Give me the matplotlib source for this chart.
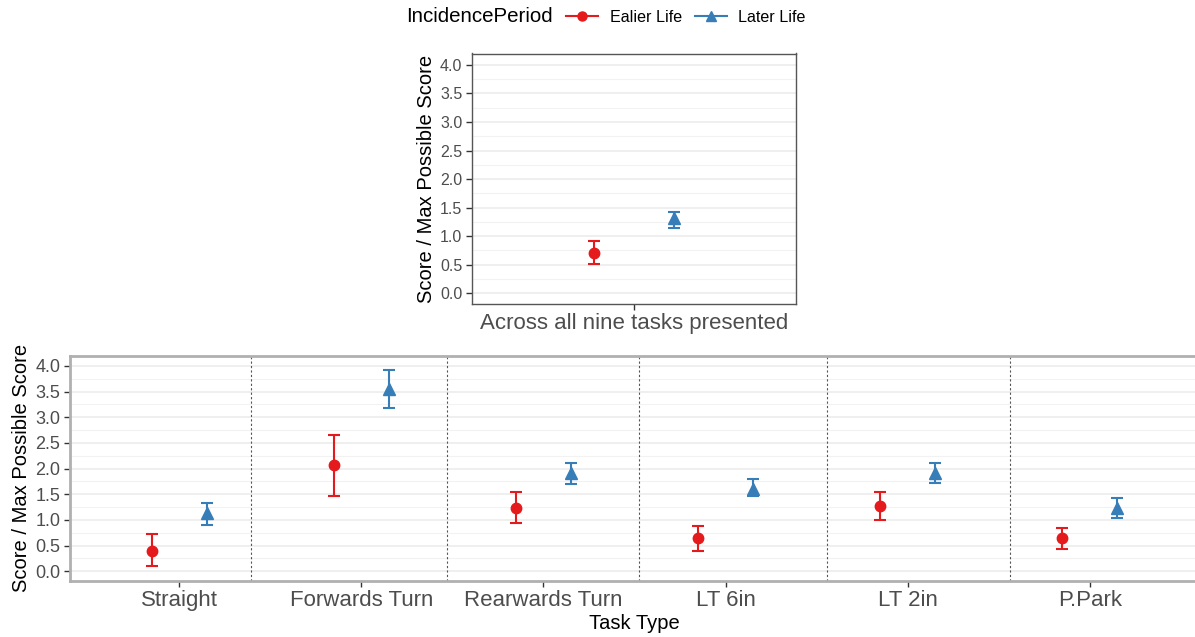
import matplotlib
matplotlib.use("Agg")
import matplotlib.pyplot as plt
from matplotlib.lines import Line2D
import numpy as np

plt.rcParams['font.family'] = ['Liberation Sans', 'DejaVu Sans']

# ---- data ----
series = ["Ealier Life", "Later Life"]
colors = ["#E41A1C", "#377EB8"]
markers = ["o", "^"]

overall_label = ["Across all nine tasks presented"]
overall_mean = [0.71, 1.31]
overall_lo = [0.52, 1.15]
overall_hi = [0.91, 1.42]

tasks = ["Straight", "Forwards Turn", "Rearwards Turn", "LT 6in", "LT 2in", "P.Park"]
early_mean = [0.40, 2.07, 1.24, 0.64, 1.27, 0.64]
early_lo = [0.10, 1.47, 0.94, 0.39, 0.99, 0.43]
early_hi = [0.72, 2.66, 1.54, 0.89, 1.55, 0.85]
later_mean = [1.13, 3.55, 1.92, 1.61, 1.92, 1.24]
later_lo = [0.90, 3.18, 1.70, 1.46, 1.72, 1.04]
later_hi = [1.33, 3.92, 2.11, 1.80, 2.10, 1.43]
separators = [1.392, 2.473, 3.526, 4.555, 5.564]

yticks = [0.0, 0.5, 1.0, 1.5, 2.0, 2.5, 3.0, 3.5, 4.0]

W, H = 1195, 637
fig = plt.figure(figsize=(W / 100, H / 100), dpi=100)

def px_axes(l, t, r, b):
    return fig.add_axes([l / W, 1 - b / H, (r - l) / W, (b - t) / H])

tick_col = "#4D4D4D"
dodge = 0.15

def style(ax, tick_fs, xtick_fs, border_col, border_lw):
    ax.set_ylim(-0.18, 4.2)
    ax.set_yticks(yticks)
    ax.set_yticklabels([f"{v:.1f}" for v in yticks])
    ax.set_yticks(np.arange(0.25, 4.0, 0.5), minor=True)
    ax.grid(axis='y', which='major', color='#EBEBEB', lw=1.1, zorder=0)
    ax.grid(axis='y', which='minor', color='#F2F2F2', lw=0.8, zorder=0)
    ax.tick_params(axis='y', which='minor', length=0)
    ax.tick_params(axis='both', which='major', length=4, width=1, color='#333333',
                   labelcolor=tick_col, pad=3)
    ax.tick_params(axis='y', labelsize=tick_fs)
    ax.tick_params(axis='x', labelsize=xtick_fs)
    ax.set_axisbelow(True)
    for s in ax.spines.values():
        s.set_color(border_col)
        s.set_linewidth(border_lw)

def draw(ax, x, mean, lo, hi, k):
    mean = np.asarray(mean); lo = np.asarray(lo); hi = np.asarray(hi)
    ax.errorbar(x, mean, yerr=[mean - lo, hi - mean], fmt=markers[k], color=colors[k],
                ms=7.5 if k == 0 else 8, elinewidth=1.5, capsize=4.5, capthick=1.5, zorder=3)

# ---- top panel ----
ax1 = px_axes(472, 53.5, 796, 303.5)
xpos = np.arange(1, len(overall_label) + 1)
draw(ax1, xpos - dodge, [overall_mean[0]], [overall_lo[0]], [overall_hi[0]], 0)
draw(ax1, xpos + dodge, [overall_mean[1]], [overall_lo[1]], [overall_hi[1]], 1)
ax1.set_xlim(0.4, 1.6)
ax1.set_xticks(xpos)
ax1.set_xticklabels(overall_label)
style(ax1, 11.5, 16, '#555555', 1.0)
ax1.set_ylabel("Score / Max Possible Score", fontsize=14.5, color='black', labelpad=3)

# ---- bottom panel ----
ax2 = px_axes(70, 355.7, 1199, 580.5)
xt = np.arange(1, len(tasks) + 1)
draw(ax2, xt - dodge, early_mean, early_lo, early_hi, 0)
draw(ax2, xt + dodge, later_mean, later_lo, later_hi, 1)
for s in separators:
    ax2.axvline(s, color='#555555', lw=0.8, ls=(0, (2, 2)), zorder=1)
ax2.set_xlim(0.4, 6.6)
ax2.set_xticks(xt)
ax2.set_xticklabels(tasks)
style(ax2, 13, 16, '#B0B0B0', 2.0)
ax2.set_ylabel("Score / Max Possible Score", fontsize=14.5, color='black', labelpad=3)
ax2.set_xlabel("Task Type", fontsize=14.5, color='black', labelpad=2)

# ---- legend ----
fig.text(406 / W, 1 - 17 / H, "IncidencePeriod", fontsize=14.8, ha='left', va='center')
handles = [Line2D([0], [0], color=colors[k], marker=markers[k], lw=1.5, ms=6.5) for k in range(2)]
fig.legend(handles, series, ncol=2, loc='center left', bbox_to_anchor=(566 / W, 1 - 17 / H),
           frameon=False, fontsize=11.6, handlelength=2.0, handletextpad=0.7, columnspacing=0.8,
           borderaxespad=0, borderpad=0)

fig.savefig("out.png", dpi=100)
